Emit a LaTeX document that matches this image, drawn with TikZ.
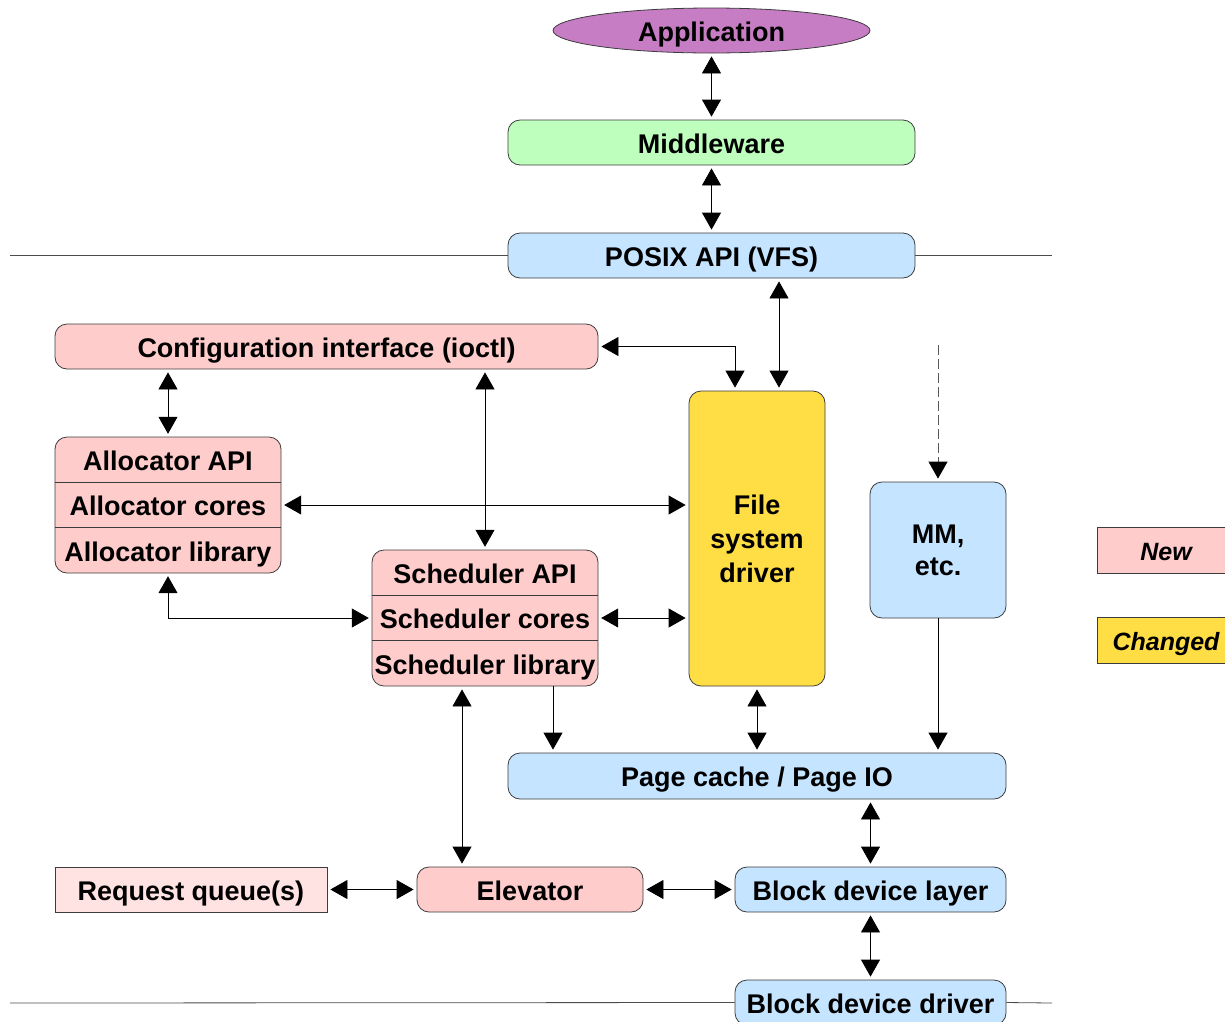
\documentclass[tikz,border=0pt]{standalone}
\usepackage{fontspec}
\setmainfont{Liberation Sans}
\usetikzlibrary{arrows.meta,shapes.geometric,calc}

\definecolor{appfill}{RGB}{199,125,196}
\definecolor{mwfill}{RGB}{190,255,190}
\definecolor{sysfill}{RGB}{196,228,255}
\definecolor{newfill}{RGB}{255,204,204}
\definecolor{rqfill}{RGB}{255,226,226}
\definecolor{chgfill}{RGB}{255,221,68}
\definecolor{frame}{RGB}{60,60,60}

\tikzset{
  lbl/.style={font=\bfseries\fontsize{27}{34}\selectfont, align=center,
    text height=24pt, text depth=2.4pt},
  multi/.style={text height=, text depth=},
  box/.style={rectangle, draw=frame, line width=0.8pt, rounded corners=12pt, inner sep=0pt, lbl},
  sqbox/.style={rectangle, draw=frame, line width=0.8pt, inner sep=0pt, lbl},
  part/.style={rectangle, inner sep=0pt, lbl},
  keybox/.style={rectangle, draw=frame, line width=0.8pt, inner sep=0pt,
    minimum width=138pt, minimum height=46pt, font=\bfseries\itshape\fontsize{25}{30}\selectfont,
    text height=23pt, text depth=2.2pt},
  tip/.tip={Triangle[length=17pt,width=19pt,color=black]},
  link/.style={tip-tip, line width=0.8pt, shorten <=3pt, shorten >=3pt},
  oneway/.style={-tip, line width=0.8pt, shorten >=3pt},
  divider/.style={draw=frame, line width=0.8pt},
  layerline/.style={draw=black!70, line width=0.8pt},
}

\begin{document}
\begin{tikzpicture}[x=1pt,y=-1pt]
  \clip (0,0) rectangle (1225,1021);

  % upper layers
  \node[ellipse, draw=frame, line width=0.8pt, fill=appfill, inner sep=0pt,
        minimum width=317pt, minimum height=45pt, lbl] (app) at (711.5,30.5) {Application};
  \node[box, fill=mwfill, minimum width=407pt, minimum height=45pt] (mw) at (711.5,142.5) {Middleware};
  \node[box, fill=sysfill, minimum width=407pt, minimum height=45pt] (posix) at (711.5,255.5) {POSIX API (VFS)};

  % configuration interface
  \node[box, fill=newfill, minimum width=543pt, minimum height=45pt] (config) at (326.5,346.5) {Configuration interface (ioctl)};

  % allocator stack
  \node[box, fill=newfill, minimum width=226pt, minimum height=136pt] (alloc) at (168,505) {};
  \node[part, minimum width=226pt, minimum height=45.33pt] (allocapi) at (168,459.67) {Allocator API};
  \node[part, minimum width=226pt, minimum height=45.33pt] (alloccores) at (168,505) {Allocator cores};
  \node[part, minimum width=226pt, minimum height=45.33pt] (alloclib) at (168,550.33) {Allocator library};
  \draw[divider] (allocapi.south west) -- (allocapi.south east);
  \draw[divider] (alloccores.south west) -- (alloccores.south east);

  % scheduler stack
  \node[box, fill=newfill, minimum width=226pt, minimum height=136pt] (sched) at (485,618) {};
  \node[part, minimum width=226pt, minimum height=45.33pt] (schedapi) at (485,572.67) {Scheduler API};
  \node[part, minimum width=226pt, minimum height=45.33pt] (schedcores) at (485,618) {Scheduler cores};
  \node[part, minimum width=226pt, minimum height=45.33pt] (schedlib) at (485,663.33) {Scheduler library};
  \draw[divider] (schedapi.south west) -- (schedapi.south east);
  \draw[divider] (schedcores.south west) -- (schedcores.south east);

  % file system driver and memory management
  \node[box, multi, fill=chgfill, minimum width=136pt, minimum height=295pt] (fsd) at (757,538.5) {File\\system\\driver};
  \node[box, multi, fill=sysfill, minimum width=136pt, minimum height=136pt,
        font=\bfseries\fontsize{27}{32}\selectfont] (mm) at (938,550) {MM,\\etc.};
  \coordinate (mmin) at (938,345);

  % lower layers
  \node[box, fill=sysfill, minimum width=498pt, minimum height=46pt] (page) at (757,776) {Page cache / Page IO};
  \node[sqbox, fill=rqfill, minimum width=272pt, minimum height=45pt] (req) at (191,889.5) {Request queue(s)};
  \node[box, fill=newfill, minimum width=226pt, minimum height=45pt] (elev) at (530,889.5) {Elevator};
  \node[box, fill=sysfill, minimum width=271pt, minimum height=45pt] (bdl) at (870.5,889.5) {Block device layer};
  \node[box, fill=sysfill, minimum width=271pt, minimum height=45pt] (bdd) at (870.5,1002.5) {Block device driver};

  % key
  \node[keybox, fill=newfill] (keynew) at (1166,550) {New};
  \node[keybox, fill=chgfill] (keychg) at (1166,640.5) {Changed};

  % layer boundaries
  \coordinate (topl) at (10,255.5);
  \coordinate (topr) at (1052,255.5);
  \coordinate (botl) at (10,1003);
  \coordinate (botr) at (1052,1003);
  \draw[layerline] (topl) -- (posix.west);
  \draw[layerline] (posix.east) -- (topr);
  \draw[layerline] (botl) -- (bdd.west);
  \draw[layerline] (bdd.east) -- (botr);

  % connectors
  \draw[link] (app.south) -- (mw.north);
  \draw[link] (mw.south) -- (posix.north);
  \draw[link] ([xshift=22pt]fsd.north |- posix.south) -- ([xshift=22pt]fsd.north);
  \draw[link] (config.east) -| ([xshift=-22pt]fsd.north);
  \draw[link] (allocapi.north |- config.south) -- (allocapi.north);
  \draw[link] (schedapi.north |- config.south) -- (schedapi.north);
  \draw[link] (alloccores.east) -- (alloccores.east -| fsd.west);
  \draw[link] (alloclib.south) |- (schedcores.west);
  \draw[link] (schedcores.east) -- (schedcores.east -| fsd.west);
  \draw[oneway, dash pattern=on 10pt off 4pt, draw=black!65] (mmin) -- (mm.north);
  \draw[oneway] ([xshift=68pt]sched.south) -- ([xshift=68pt]sched.south |- page.north);
  \draw[link] (fsd.south) -- (fsd.south |- page.north);
  \draw[oneway] (mm.south) -- (mm.south |- page.north);
  \draw[link] ([xshift=-23pt]sched.south) -- ([xshift=-23pt]sched.south |- elev.north);
  \draw[link] (bdl.north |- page.south) -- (bdl.north);
  \draw[link] (req.east) -- (elev.west);
  \draw[link] (elev.east) -- (bdl.west);
  \draw[link] (bdl.south) -- (bdd.north);
\end{tikzpicture}
\end{document}
